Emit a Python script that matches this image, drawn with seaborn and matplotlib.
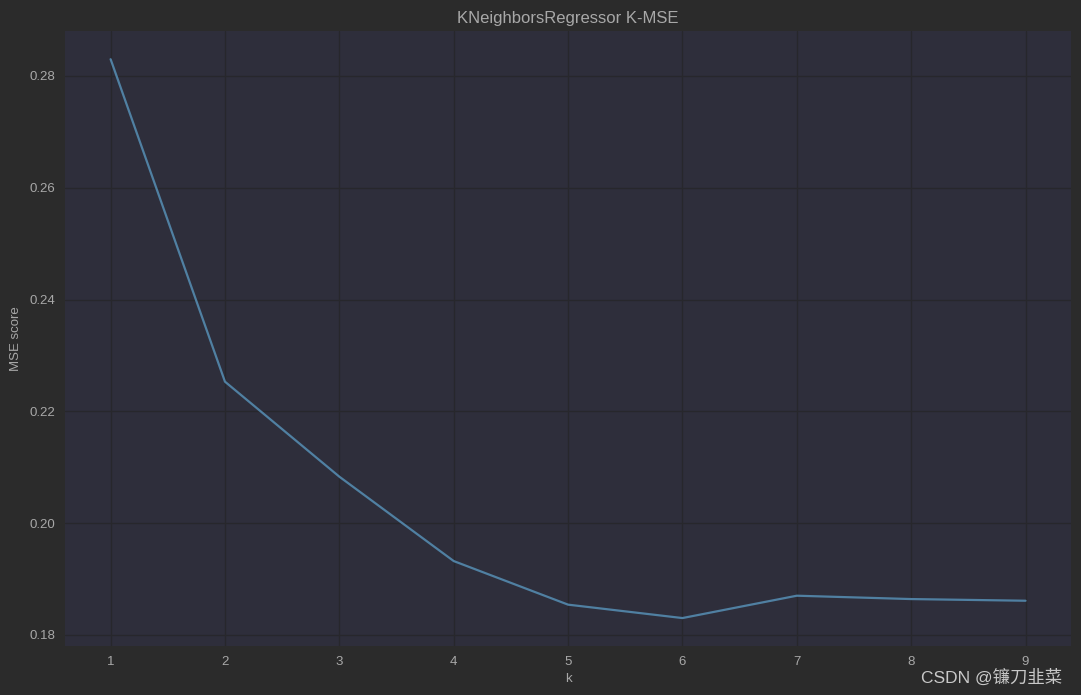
import numpy as np
import pandas as pd
import matplotlib
matplotlib.use("Agg")
import matplotlib.pyplot as plt
import seaborn as sns

k_values = [1, 2, 3, 4, 5, 6, 7, 8, 9]
mse_scores = [0.2830, 0.2253, 0.2083, 0.1932, 0.1854, 0.1830, 0.1870, 0.1864, 0.1861]

df = pd.DataFrame({'k': k_values, 'MSE score': mse_scores})

sns.set_theme(style='darkgrid')
plt.rcParams['font.family'] = ['Liberation Sans', 'DejaVu Sans']

fig_bg = '#2b2b2b'
ax_bg = '#2e2e3b'
txt = '#a8a8a8'

fig = plt.figure(figsize=(10.81, 6.95), dpi=100, facecolor=fig_bg)
ax = fig.add_axes([0.060, 0.0705, 0.931, 0.8845])
ax.set_facecolor(ax_bg)

sns.lineplot(data=df, x='k', y='MSE score', color='#5080a2', linewidth=1.6, ax=ax)

ax.grid(True, color='#27272c', linewidth=1.0)
for s in ax.spines.values():
    s.set_visible(False)
ax.tick_params(colors=txt, labelsize=9.5, length=0, pad=7)
ax.set_yticks([0.18, 0.20, 0.22, 0.24, 0.26, 0.28])
ax.set_xticks(k_values)
ax.set_title('KNeighborsRegressor K-MSE', color=txt, fontsize=12, pad=6)
ax.set_xlabel('k', color=txt, fontsize=9.5, labelpad=4)
ax.set_ylabel('MSE score', color=txt, fontsize=9.5, labelpad=5)

fig.text(0.983, 0.013, 'CSDN @镰刀韭菜', color='#c8c8c8', fontsize=12.5,
         ha='right', va='bottom', family=['Liberation Sans', 'Noto Sans CJK SC'])

fig.savefig('out.png', dpi=100, facecolor=fig_bg)
